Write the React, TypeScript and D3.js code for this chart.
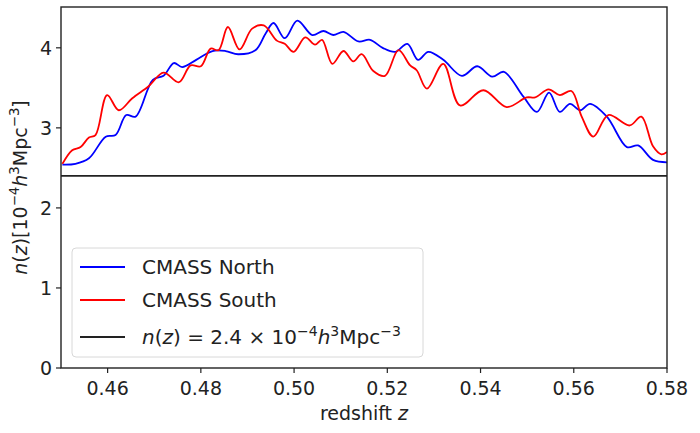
import * as d3 from "d3"

const northZ = [0.4503,0.4531,0.456,0.4596,0.4617,0.464,0.466,0.4697,0.472,0.4742,0.476,0.479,0.4825,0.4853,0.488,0.4917,0.4939,0.4956,0.498,0.5007,0.5039,0.5063,0.5084,0.5106,0.5138,0.5163,0.519,0.5217,0.5243,0.5266,0.5288,0.532,0.536,0.5393,0.5425,0.545,0.5492,0.5521,0.5547,0.557,0.5592,0.5614,0.5635,0.5671,0.5714,0.5738,0.577,0.58]
const northN = [2.54,2.55,2.62,2.89,2.91,3.16,3.14,3.6,3.65,3.81,3.76,3.85,3.96,3.96,3.92,3.97,4.18,4.31,4.12,4.34,4.16,4.21,4.16,4.2,4.08,4.1,4.0,3.95,4.05,3.85,3.95,3.85,3.65,3.77,3.64,3.7,3.39,3.2,3.44,3.2,3.3,3.22,3.3,3.14,2.76,2.78,2.6,2.57]
const southZ = [0.4503,0.4524,0.4542,0.456,0.4574,0.4599,0.4624,0.4653,0.4688,0.472,0.4753,0.4778,0.48,0.4821,0.4838,0.4858,0.4883,0.491,0.4935,0.4963,0.498,0.4999,0.5024,0.5045,0.506,0.5082,0.5106,0.5127,0.5145,0.517,0.5195,0.5224,0.5249,0.5263,0.5285,0.532,0.5356,0.5406,0.5456,0.5499,0.5517,0.5546,0.557,0.5595,0.5617,0.5642,0.5674,0.572,0.5745,0.577,0.5788,0.58]
const southN = [2.55,2.72,2.76,2.88,2.91,3.41,3.22,3.37,3.52,3.69,3.57,3.78,3.77,3.99,3.97,4.26,3.98,4.24,4.28,4.09,4.05,3.95,4.13,4.04,4.1,3.8,3.96,3.83,3.92,3.71,3.65,3.97,3.78,3.72,3.49,3.8,3.28,3.47,3.26,3.38,3.38,3.48,3.41,3.46,3.14,2.89,3.16,3.03,3.14,2.77,2.67,2.7]
const constN = 2.4
const xTicks = [0.46,0.48,0.5,0.52,0.54,0.56,0.58]
const yTicks = [0,1,2,3,4]

const W = 700, H = 433
const left = 61, right = 667, top = 7, bottom = 368

export default function App() {
  const x = d3.scaleLinear().domain([0.45, 0.58]).range([left, right])
  const y = d3.scaleLinear().domain([0, 4.51]).range([bottom, top])
  const line = (zs: number[], ns: number[]) =>
    d3.line<number>().x((_, i) => x(zs[i])).y((d) => y(d)).curve(d3.curveCatmullRom.alpha(0.5))(ns) || ""
  const font = "DejaVu Sans, sans-serif"
  const sup = (s: string, fs: number) => (
    <>
      <tspan dy={-fs * 0.4} fontSize={fs * 0.7}>{s}</tspan>
    </>
  )
  return (
    <svg width={W} height={H} style={{ position: "absolute", left: 0, top: 0 }} fontFamily={font} fill="#222">
      <defs>
        <clipPath id="c"><rect x={left} y={top} width={right - left} height={bottom - top} /></clipPath>
      </defs>
      <g clipPath="url(#c)">
        <path d={line(northZ, northN)} fill="none" stroke="#0000ff" strokeWidth={1.8} />
        <path d={line(southZ, southN)} fill="none" stroke="#ff0000" strokeWidth={1.8} />
        <line x1={left} x2={right} y1={y(constN)} y2={y(constN)} stroke="#222" strokeWidth={1.8} />
      </g>
      <rect x={left} y={top} width={right - left} height={bottom - top} fill="none" stroke="#222" strokeWidth={1.4} />
      {xTicks.map((t) => (
        <g key={t}>
          <line x1={x(t)} x2={x(t)} y1={bottom} y2={bottom + 5} stroke="#222" strokeWidth={1.2} />
          <text x={x(t)} y={bottom + 27} textAnchor="middle" fontSize={19}>{t.toFixed(2)}</text>
        </g>
      ))}
      {yTicks.map((t) => (
        <g key={t}>
          <line x1={left - 5} x2={left} y1={y(t)} y2={y(t)} stroke="#222" strokeWidth={1.2} />
          <text x={left - 9} y={y(t) + 7} textAnchor="end" fontSize={19}>{t}</text>
        </g>
      ))}
      <text x={(left + right) / 2 + 0} y={420} textAnchor="middle" fontSize={19}>
        redshift <tspan fontStyle="italic">z</tspan>
      </text>
      <text transform={`translate(27,${(top + bottom) / 2}) rotate(-90)`} textAnchor="middle" fontSize={19}>
        <tspan fontStyle="italic">n</tspan>(<tspan fontStyle="italic">z</tspan>)[10{sup("−4", 19)}
        <tspan dy={7.6} fontStyle="italic">h</tspan>{sup("3", 19)}
        <tspan dy={7.6}>Mpc</tspan>{sup("−3", 19)}<tspan dy={7.6}>]</tspan>
      </text>
      <rect x={72} y={248} width={351} height={109} rx={4} fill="#fff" fillOpacity={0.85} stroke="#d8d8d8" />
      <line x1={80} x2={125} y1={267} y2={267} stroke="#0000ff" strokeWidth={1.8} />
      <text x={142} y={274} fontSize={20}>CMASS North</text>
      <line x1={80} x2={125} y1={300} y2={300} stroke="#ff0000" strokeWidth={1.8} />
      <text x={142} y={307} fontSize={20}>CMASS South</text>
      <line x1={80} x2={125} y1={337} y2={337} stroke="#222" strokeWidth={1.8} />
      <text x={142} y={344} fontSize={20}>
        <tspan fontStyle="italic">n</tspan>(<tspan fontStyle="italic">z</tspan>) = 2.4 × 10{sup("−4", 20)}
        <tspan dy={8} fontStyle="italic">h</tspan>{sup("3", 20)}
        <tspan dy={8}>Mpc</tspan>{sup("−3", 20)}
      </text>
    </svg>
  )
}
